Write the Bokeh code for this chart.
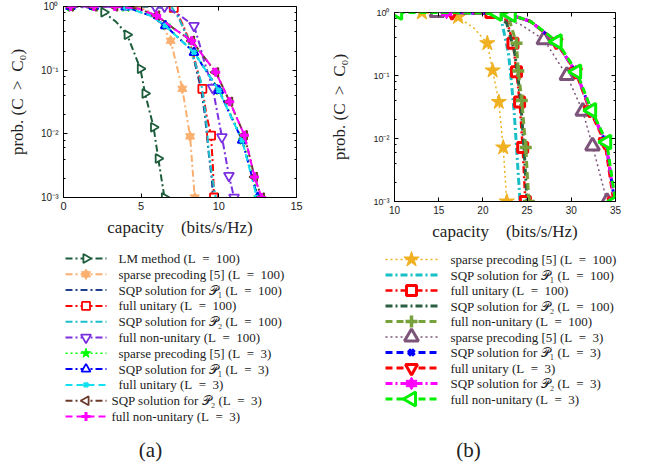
import numpy as np
from bokeh.plotting import figure
from bokeh.layouts import row, column
from bokeh.models import Range1d, LogAxis, LinearAxis, FixedTicker, LogTicker, CustomJSTickFormatter, Spacer
from bokeh.core.properties import value
from bokeh.embed import file_html
from bokeh.resources import INLINE

# ---------------- panel (a) data ----------------
a_lm_x = [0.5, 1.5, 2.6, 3.4, 4.1, 4.95, 5.25, 5.8, 6.1, 6.5]
a_lm_y = [1.0, 0.97, 0.81, 0.57, 0.36, 0.105, 0.043, 0.0127, 0.0041, 0.001]
a_lm_mk = [0, 2, 4, 5, 6, 7, 8, 9]
a_sp100_x = [4.8, 5.6, 6.45, 6.9, 7.65, 8.15, 8.45]
a_sp100_y = [1.0, 0.81, 0.47, 0.29, 0.051, 0.0091, 0.001]
a_sp100_mk = [0, 3, 4, 5, 6]
a_p1_100_x = [5.0, 7.0, 7.4, 7.7, 8.05, 8.45, 8.85, 9.1, 9.35, 9.55, 9.62]
a_p1_100_y = [1.0, 0.95, 0.68, 0.47, 0.29, 0.13, 0.051, 0.02, 0.0049, 0.0019, 0.001]
a_fu100_x = [5.0, 7.1, 7.45, 7.75, 8.1, 8.5, 8.94, 9.2, 9.5, 9.62, 9.69]
a_fu100_y = [1.0, 0.95, 0.68, 0.47, 0.29, 0.13, 0.051, 0.02, 0.0094, 0.003, 0.001]
a_fu100_mk = [1, 6, 8, 10]
a_p2_100_x = [5.0, 7.0, 7.4, 7.7, 8.05, 8.5, 8.83, 9.04, 9.15, 9.37, 9.6, 9.8]
a_p2_100_y = [1.0, 0.95, 0.68, 0.47, 0.29, 0.126, 0.069, 0.033, 0.0195, 0.0049, 0.0019, 0.001]
a_fn100_x = [5.9, 6.5, 7.5, 8.4, 8.75, 9.05, 9.6, 10.2, 10.65, 10.98]
a_fn100_y = [1.0, 1.0, 0.72, 0.5, 0.26, 0.14, 0.053, 0.0089, 0.0022, 0.001]
a_fn100_mk = [0, 1, 3, 6, 7, 8, 9]
a_sp3_x = [0.45, 2.0, 4.0, 5.6, 6.6, 8.45, 10.05, 11.55, 12.55]
a_sp3_y = [1.0, 1.0, 0.97, 0.72, 0.5, 0.19, 0.048, 0.0079, 0.001]
a_sp3_mk = [0, 1, 2, 4, 5, 6, 7, 8]
a_p1_3_x = [0.45, 1.95, 4.0, 5.6, 6.55, 8.4, 10.0, 11.5, 12.5]
a_p1_3_y = [1.0, 1.0, 0.98, 0.72, 0.5, 0.19, 0.048, 0.0079, 0.001]
a_p1_3_mk = [0, 1, 2, 4, 5, 6, 7, 8]
a_fu3_x = [0.45, 2.0, 4.0, 5.6, 6.55, 8.4, 10.0, 11.5, 12.45]
a_fu3_y = [1.0, 1.0, 0.97, 0.72, 0.5, 0.19, 0.048, 0.0079, 0.001]
a_fu3_mk = [2, 4, 5, 6, 7, 8]
a_p2_3_x = [0.45, 1.95, 3.3, 4.8, 6.0, 7.1, 8.25, 9.8, 10.7, 11.65, 12.3, 12.75]
a_p2_3_y = [1.0, 1.0, 1.0, 0.93, 0.72, 0.45, 0.29, 0.093, 0.032, 0.0095, 0.0021, 0.001]
a_p2_3_mk = [0, 1, 2, 4, 6, 7, 8, 9, 10, 11]
a_fn3_x = [0.45, 1.95, 3.3, 4.8, 6.0, 7.1, 8.25, 9.8, 10.7, 11.65, 12.3, 12.75]
a_fn3_y = [1.0, 1.0, 1.0, 0.93, 0.72, 0.45, 0.29, 0.093, 0.032, 0.0095, 0.0021, 0.001]
a_fn3_mk = [0, 1, 2, 4, 6, 7, 8, 9, 10, 11]

EQ100 = "(L\u2002=\u2002100)"
EQ3 = "(L\u2002=\u20023)"
a_labels = [
    "LM method " + EQ100,
    "sparse precoding [5] " + EQ100,
    "SQP solution for 𝒫₁ " + EQ100,
    "full unitary " + EQ100,
    "SQP solution for 𝒫₂ " + EQ100,
    "full non-unitary " + EQ100,
    "sparse precoding [5] " + EQ3,
    "SQP solution for 𝒫₁ " + EQ3,
    "full unitary " + EQ3,
    "SQP solution for 𝒫₂ " + EQ3,
    "full non-unitary " + EQ3,
]

# ---------------- panel (b) data ----------------
b_sp100_x = [13.1, 17.2, 19.0, 20.5, 21.1, 21.8, 22.3, 22.7]
b_sp100_y = [1.0, 0.85, 0.56, 0.325, 0.12, 0.038, 0.0072, 0.001]
b_sp100_mk = [0, 1, 3, 4, 5, 6, 7]
b_p1_100_x = [15.0, 21.0, 22.0, 22.5, 22.9, 23.2, 23.55, 23.9, 24.2]
b_p1_100_y = [1.0, 0.97, 0.86, 0.41, 0.22, 0.085, 0.025, 0.0045, 0.001]
b_fu100_x = [20.9, 22.7, 23.4, 23.8, 24.15, 24.5, 24.8]
b_fu100_y = [1.0, 0.75, 0.325, 0.115, 0.038, 0.0072, 0.001]
b_fu100_mk = [0, 2, 3, 4, 5, 6]
b_p2_100_x = [16.0, 21.5, 22.7, 23.55, 23.95, 24.3, 24.65, 25.0]
b_p2_100_y = [1.0, 0.97, 0.67, 0.25, 0.1, 0.035, 0.007, 0.001]
b_fn100_x = [22.0, 23.0, 23.8, 24.0, 24.4, 24.85, 25.2]
b_fn100_y = [1.0, 0.75, 0.325, 0.118, 0.04, 0.0072, 0.001]
b_fn100_mk = [0, 2, 3, 4, 5, 6]
b_sp3_x = [14.8, 21.0, 24.3, 26.9, 29.5, 31.3, 32.4, 34.05]
b_sp3_y = [1.0, 0.95, 0.64, 0.37, 0.10, 0.027, 0.0076, 0.001]
b_sp3_mk = [0, 3, 4, 5, 6, 7]
b_p1_3_x = [16.2, 21.5, 23.3, 25.4, 28.3, 30.5, 32.2, 33.9, 34.9]
b_p1_3_y = [1.0, 0.97, 0.9, 0.72, 0.34, 0.115, 0.028, 0.0088, 0.001]
b_p1_3_mk = [0, 4, 5, 6, 7, 8]
b_fu3_x = [16.5, 21.5, 23.3, 25.4, 28.3, 30.5, 32.1, 33.8, 34.8]
b_fu3_y = [1.0, 0.97, 0.9, 0.72, 0.34, 0.115, 0.028, 0.0088, 0.001]
b_fu3_mk = [0, 4, 5, 6, 7, 8]
b_p2_3_x = [15.9, 21.5, 23.3, 25.4, 28.3, 30.5, 32.2, 33.9, 34.9]
b_p2_3_y = [1.0, 0.97, 0.9, 0.72, 0.34, 0.115, 0.028, 0.0088, 0.001]
b_p2_3_mk = [0, 4, 5, 6, 7, 8]
b_fn3_x = [10.35, 16.0, 21.6, 23.2, 25.4, 28.4, 30.6, 32.3, 34.0, 35.0]
b_fn3_y = [1.0, 1.0, 0.97, 0.92, 0.72, 0.345, 0.115, 0.028, 0.0088, 0.001]
b_fn3_mk = [0, 2, 3, 5, 6, 7, 8, 9]

b_labels = [
    "sparse precoding [5] " + EQ100,
    "SQP solution for 𝒫₁ " + EQ100,
    "full unitary " + EQ100,
    "SQP solution for 𝒫₂ " + EQ100,
    "full non-unitary " + EQ100,
    "sparse precoding [5] " + EQ3,
    "SQP solution for 𝒫₁ " + EQ3,
    "full unitary " + EQ3,
    "SQP solution for 𝒫₂ " + EQ3,
    "full non-unitary " + EQ3,
]

a_xticks = [0, 5, 10, 15]
b_xticks = [10, 15, 20, 25, 30, 35]

DASHDOT = "7 3 2 3"
DASHED = "7 4"
DOTTED = "2 3"

# (x, y, marker idx, color, dash, line width, marker, marker size, marker line width, filled)
a_series = [
    (a_lm_x, a_lm_y, a_lm_mk, "#1d5c3a", DASHDOT, 2, "tri_right", 9, 1.8, False),
    (a_sp100_x, a_sp100_y, a_sp100_mk, "#fbb070", DASHDOT, 2, "hexagram", 9, 1, True),
    (a_p1_100_x, a_p1_100_y, [], "#213f8f", DASHDOT, 2, None, 0, 0, False),
    (a_fu100_x, a_fu100_y, a_fu100_mk, "#ff0000", DASHDOT, 2, "square", 8, 1.8, False),
    (a_p2_100_x, a_p2_100_y, [], "#1cbfcc", DASHDOT, 2, None, 0, 0, False),
    (a_fn100_x, a_fn100_y, a_fn100_mk, "#7b2fe0", DASHDOT, 2, "inverted_triangle", 10, 1.8, False),
    (a_sp3_x, a_sp3_y, a_sp3_mk, "#00ff00", DOTTED, 1.5, "star", 10, 1, True),
    (a_p1_3_x, a_p1_3_y, a_p1_3_mk, "#0000ff", DASHDOT, 2, "triangle", 9, 1.8, False),
    (a_fu3_x, a_fu3_y, a_fu3_mk, "#10e0f0", DASHED, 2, "x", 6, 3, False),
    (a_p2_3_x, a_p2_3_y, a_p2_3_mk, "#6b3a2a", DASHDOT, 2, "tri_left", 9, 1.8, False),
    (a_fn3_x, a_fn3_y, a_fn3_mk, "#ff00ff", DASHED, 2, "cross", 9, 3, False),
]

b_series = [
    (b_sp100_x, b_sp100_y, b_sp100_mk, "#efb122", DOTTED, 1.5, "star", 16, 1, True),
    (b_p1_100_x, b_p1_100_y, [], "#19bfc6", DASHDOT, 3, None, 0, 0, False),
    (b_fu100_x, b_fu100_y, b_fu100_mk, "#ff0000", DASHDOT, 2.5, "square", 10, 3, False),
    (b_p2_100_x, b_p2_100_y, [], "#2a5f42", DASHDOT, 3, None, 0, 0, False),
    (b_fn100_x, b_fn100_y, b_fn100_mk, "#77a13a", DASHED, 3, "cross", 12, 3.5, False),
    (b_sp3_x, b_sp3_y, b_sp3_mk, "#7d5479", DOTTED, 1.5, "triangle", 14, 3, False),
    (b_p1_3_x, b_p1_3_y, b_p1_3_mk, "#0000ff", DASHED, 3, "x", 8, 4, False),
    (b_fu3_x, b_fu3_y, b_fu3_mk, "#ff0000", DASHED, 3, "inverted_triangle", 12, 3, False),
    (b_p2_3_x, b_p2_3_y, b_p2_3_mk, "#ff00ff", DASHDOT, 3, "hexagram", 11, 1, True),
    (b_fn3_x, b_fn3_y, b_fn3_mk, "#00f000", DASHED, 3, "tri_left", 14, 3, False),
]

SERIF = value("Liberation Serif")


def draw_marker(p, xs, ys, marker, size, color, mlw, filled):
    if marker is None or len(xs) == 0:
        return
    fill = color if filled else "white"
    kw = dict(size=size, line_color=color, line_width=mlw, fill_color=fill)
    if marker == "tri_right":
        p.scatter(xs, ys, marker="triangle", angle=-np.pi / 2, **kw)
    elif marker == "tri_left":
        p.scatter(xs, ys, marker="triangle", angle=np.pi / 2, **kw)
    elif marker == "hexagram":
        p.scatter(xs, ys, marker="triangle", **kw)
        p.scatter(xs, ys, marker="inverted_triangle", **kw)
    else:
        p.scatter(xs, ys, marker=marker, **kw)


sup_formatter = CustomJSTickFormatter(code="""
const e = Math.round(Math.log10(tick));
const m = {"-": "\u207b", "0": "\u2070", "1": "\u00b9", "2": "\u00b2", "3": "\u00b3"};
let s = "";
for (const c of String(e)) { s += m[c]; }
return "10" + s;
""")
blank_formatter = CustomJSTickFormatter(code="return '';")


def make_panel(xr, xticks, series, width, height, bl, br, bt, bb,
               xtick_size, ytick_size, x_standoff, y_standoff, xlab_standoff, ylab_standoff):
    p = figure(width=width, height=height, x_range=Range1d(*xr), y_range=Range1d(1e-3, 1),
               y_axis_type="log", output_backend="svg", toolbar_location=None,
               min_border_left=bl, min_border_right=br, min_border_top=bt, min_border_bottom=bb)
    p.grid.visible = False
    p.outline_line_color = "black"
    p.outline_line_width = 1
    p.background_fill_color = "white"
    p.border_fill_color = "white"

    p.xaxis.ticker = FixedTicker(ticks=xticks)
    p.yaxis.ticker = LogTicker(desired_num_ticks=4)
    p.yaxis.formatter = sup_formatter
    for ax in (p.xaxis[0], p.yaxis[0]):
        ax.major_tick_in = 4
        ax.major_tick_out = 0
        ax.minor_tick_in = 2
        ax.minor_tick_out = 0
        ax.axis_line_color = "black"
        ax.major_label_text_font = "Liberation Sans"
        ax.axis_label_text_font = "Liberation Serif"
        ax.axis_label_text_font_style = "normal"
        ax.axis_label_text_color = "#222222"
        ax.major_label_text_color = "#222222"
    p.xaxis.major_label_text_font_size = xtick_size
    p.yaxis.major_label_text_font_size = ytick_size
    p.xaxis.major_label_standoff = x_standoff
    p.yaxis.major_label_standoff = y_standoff
    p.xaxis.axis_label = "capacity \u00a0\u00a0 (bits/s/Hz)"
    p.yaxis.axis_label = "prob. (C\u2002>\u2002C\u2080)"
    p.xaxis.axis_label_text_font_size = "17px"
    p.yaxis.axis_label_text_font_size = "17px"
    p.xaxis.axis_label_standoff = xlab_standoff
    p.yaxis.axis_label_standoff = ylab_standoff

    # tick marks on the top and right edges of the box, drawn inside the frame
    top = LinearAxis(ticker=FixedTicker(ticks=xticks), formatter=blank_formatter,
                     fixed_location=1.0)
    right = LogAxis(ticker=LogTicker(desired_num_ticks=4), formatter=blank_formatter,
                    fixed_location=xr[1])
    for ax in (top, right):
        ax.major_tick_in = 4
        ax.major_tick_out = 0
        ax.minor_tick_in = 2
        ax.minor_tick_out = 0
        ax.major_label_standoff = 0
        ax.major_label_text_font_size = "1px"
    p.add_layout(top, "above")
    p.add_layout(right, "right")

    for (x, y, mk, color, dash, lw, marker, ms, mlw, filled) in series:
        p.line(x, y, line_color=color, line_dash=dash, line_width=lw)
        draw_marker(p, [x[i] for i in mk], [y[i] for i in mk], marker, ms, color, mlw, filled)
    return p


def make_legend(series, labels, width, height, y0, dy, x0, x1, tx, tag, tag_x, tag_y):
    q = figure(width=width, height=height, x_range=Range1d(0, width), y_range=Range1d(height, 0),
               output_backend="svg", toolbar_location=None,
               min_border_left=0, min_border_right=0, min_border_top=0, min_border_bottom=0)
    q.axis.visible = False
    q.grid.visible = False
    q.outline_line_color = None
    xc = 0.5 * (x0 + x1)
    for i, (x, y, mk, color, dash, lw, marker, ms, mlw, filled) in enumerate(series):
        yy = y0 + i * dy
        q.line([x0, x1], [yy, yy], line_color=color, line_dash=dash, line_width=lw)
        draw_marker(q, [xc], [yy], marker, ms, color, mlw, filled)
    q.text(x=tx, y=[y0 + i * dy for i in range(len(labels))], text=labels,
           text_font=SERIF, text_font_size="13px", text_baseline="middle",
           text_align="left", text_color="#222222")
    q.text(x=[tag_x], y=[tag_y], text=[tag], text_font=SERIF, text_font_size="21px",
           text_baseline="middle", text_align="center", text_color="#222222")
    return q


# panel (a): frame from y=6 to 197; panel (b): frame from y=12 to 201 (offset by a spacer)
pa = make_panel((0, 15), a_xticks, a_series, 327, 250, 63, 31, 6, 53,
                "11px", "10px", 4, 5, 5, 11)
pb = make_panel((10, 35), b_xticks, b_series, 335, 244, 55, 47, 6, 49,
                "10px", "9px", 4, 5, 5, 21)

la = make_legend(a_series, a_labels, 327, 215, 8, 15.8, 65, 106,
                 [118] * 9 + [111] * 2, "(a)", 150, 199)
lb = make_legend(b_series, b_labels, 335, 215, 9, 15.5, 58, 110,
                 [123] * 10, "(b)", 141, 199)

layout = column(row(pa, column(Spacer(width=335, height=6), pb)), row(la, lb))

open("out.html", "w").write(file_html(layout, INLINE))
